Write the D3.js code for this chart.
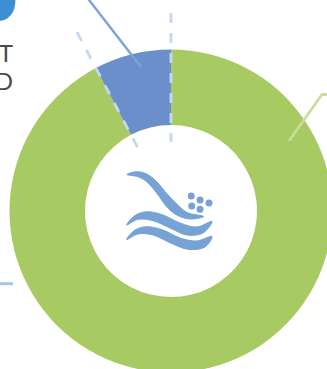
<!DOCTYPE html>
<html>
<head>
<meta charset="utf-8">
<style>
  html, body { margin: 0; padding: 0; background: #fff; overflow: hidden; }
  svg { display: block; }
</style>
<script src="https://cdn.jsdelivr.net/npm/d3@7"></script>
</head>
<body>
<svg id="chart" width="327" height="369"></svg>
<script>
// Ring shares
const categories = ["Main share", "Minor share"];
const shares = [92.3, 7.7];
const sliceColors = ["#a8ca62", "#6a8fcb"];
const cutLabels = ["T", "D"];

const width = 327, height = 369;
const cx = 171, cy = 211, outerR = 161.5, innerR = 86;

const svg = d3.select("#chart");

// Clipped heading mark and label text at the left edge
const blobLine = d3.line().curve(d3.curveBasis);
svg.append("path")
  .attr("d", blobLine([[-2, 21], [0, 21], [7, 19.5], [13, 13], [15.5, 5], [15.5, -6], [15.5, -6]]) + "L-2,-6Z")
  .attr("fill", "#3d8fd4");

svg.selectAll("text.cut")
  .data(cutLabels)
  .join("text")
  .attr("class", "cut")
  .attr("x", 13)
  .attr("y", (d, i) => 62 + i * 27.5)
  .attr("text-anchor", "end")
  .attr("font-family", "Lato, 'Open Sans', sans-serif")
  .attr("font-weight", 400)
  .attr("font-size", 24)
  .attr("fill", "#4a4a4a")
  .text(d => d);

// Donut, drawn clockwise from twelve o'clock
const pie = d3.pie().sort(null).value(d => d);
const arc = d3.arc().innerRadius(innerR).outerRadius(outerR);
const arcs = pie(shares);

const ring = svg.append("g").attr("transform", `translate(${cx},${cy})`);
ring.selectAll("path")
  .data(arcs)
  .join("path")
  .attr("d", arc)
  .attr("fill", (d, i) => sliceColors[i])
  .attr("aria-label", (d, i) => categories[i]);

// Dashed separators on the slice boundaries
const dashInner = 69, dashOuter = 198;
const boundaries = [arcs[0].startAngle, arcs[1].startAngle];
ring.selectAll("line.sep")
  .data(boundaries)
  .join("line")
  .attr("class", "sep")
  .attr("x1", a => (a === 0 ? dashOuter : dashOuter + 4) * Math.sin(a))
  .attr("y1", a => -(a === 0 ? dashOuter : dashOuter + 4) * Math.cos(a))
  .attr("x2", a => dashInner * Math.sin(a))
  .attr("y2", a => dashInner * Math.cos(a) * -1)
  .attr("stroke", "#c6d8ef")
  .attr("stroke-width", 2.8)
  .attr("stroke-dasharray", "10 10");

// Callout leaders
const leaderLine = d3.line();
const leaders = [
  { pts: [[87.5, -2], [141, 67]], color: "#7aa3d8", opacity: 1, w: 2.4 },
  { pts: [[289, 141], [322, 94.5], [329, 94.5]], color: "#cbdc98", opacity: 0.95, w: 2.8 },
  { pts: [[-2, 283.7], [13, 283.7]], color: "#a6c3e8", opacity: 1, w: 3 }
];
svg.selectAll("path.leader")
  .data(leaders)
  .join("path")
  .attr("class", "leader")
  .attr("d", d => leaderLine(d.pts))
  .attr("fill", "none")
  .attr("stroke", d => d.color)
  .attr("stroke-opacity", d => d.opacity)
  .attr("stroke-width", d => d.w);

// Water emblem inside the hole
const emblemColor = "#76a2d6";
const waveLine = d3.line().curve(d3.curveCatmullRomClosed.alpha(0.5));
const swooshes = [
  [[127, 174.5], [136.7, 171.7], [146.7, 174], [156.7, 181.7], [166.7, 193.5], [176.7, 204], [187, 212.5], [203.5, 216.5],
   [190, 219], [176.7, 215], [166.7, 206.7], [156.7, 193], [146.7, 181.7], [138, 176.7]],
  [[126.7, 225], [135, 215.5], [146.7, 211.7], [163, 215], [180, 223], [196.7, 227], [212, 221.5],
   [203, 233], [186.7, 235], [170, 228], [153, 220.7], [138, 219.3]],
  [[126.7, 239.5], [135, 230], [146.7, 226.7], [163, 230], [180, 238], [196.7, 241], [212, 236.5],
   [205, 247], [188, 249.3], [170, 242.7], [153, 235], [138, 234]]
];
svg.selectAll("path.wave")
  .data(swooshes)
  .join("path")
  .attr("class", "wave")
  .attr("d", waveLine)
  .attr("fill", emblemColor)
  .attr("stroke", emblemColor)
  .attr("stroke-width", 1)
  .attr("stroke-linejoin", "round");

const droplets = [[191.2, 196], [200, 200], [209, 203], [191.7, 206], [200, 209.3]];
svg.selectAll("circle.drop")
  .data(droplets)
  .join("circle")
  .attr("class", "drop")
  .attr("cx", d => d[0])
  .attr("cy", d => d[1])
  .attr("r", 3.5)
  .attr("fill", emblemColor);
</script>
</body>
</html>
